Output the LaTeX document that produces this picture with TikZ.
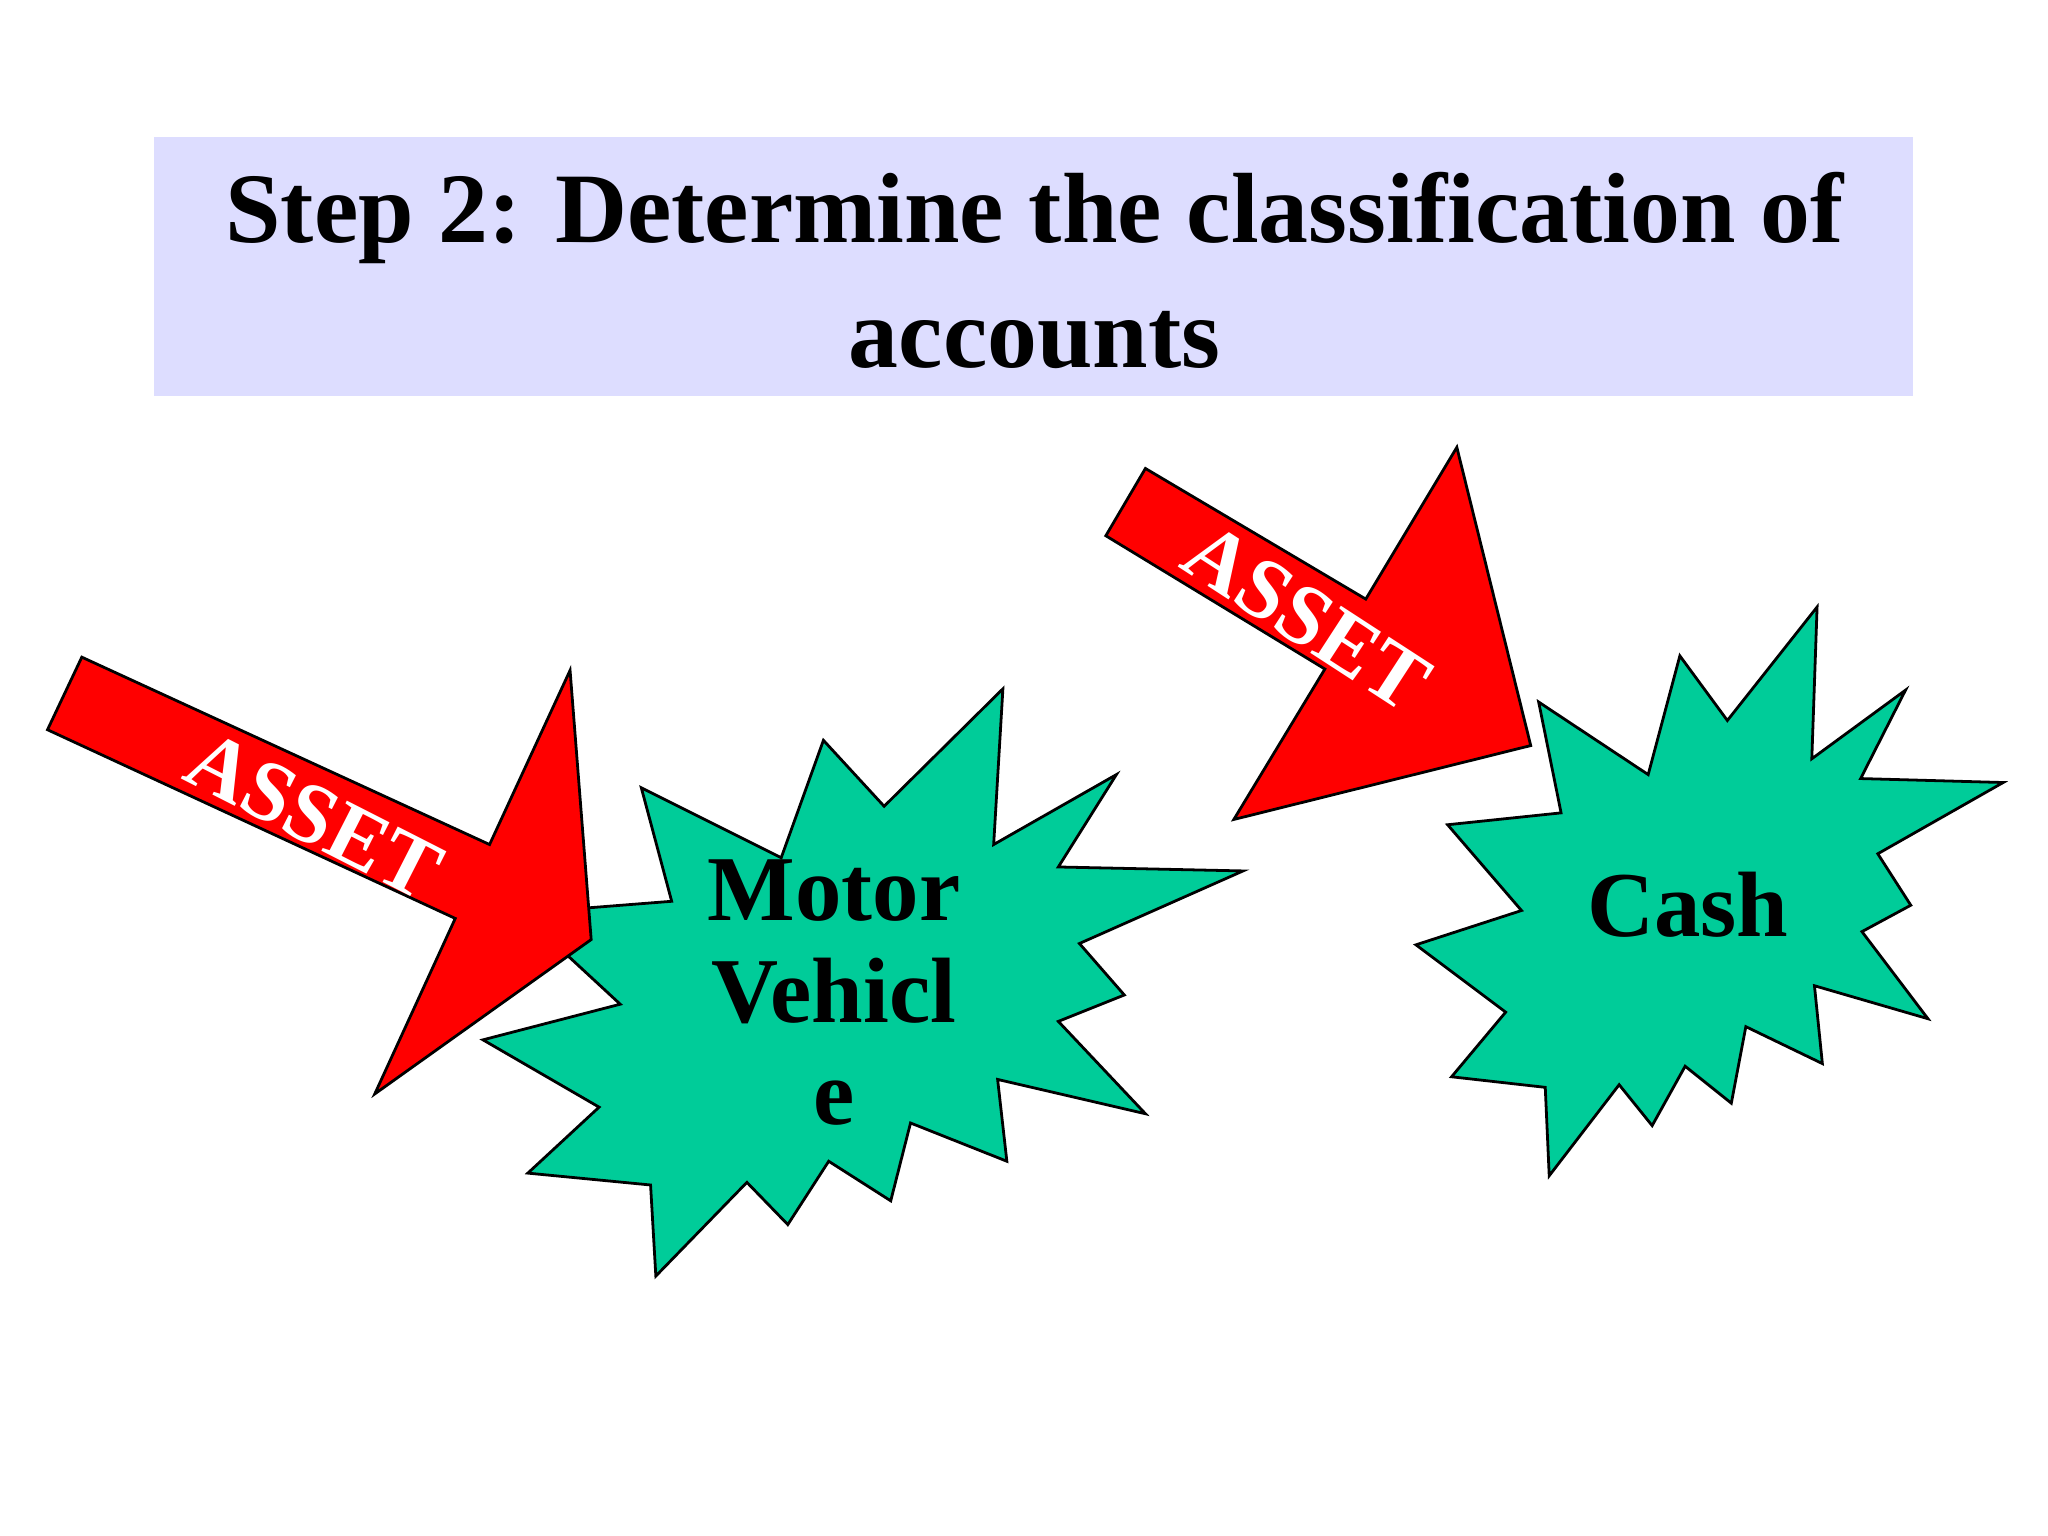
\documentclass[tikz,border=0pt]{standalone}
\usepackage{fontspec}
\setmainfont{Liberation Serif}
\definecolor{starg}{HTML}{00CC99}
\definecolor{lav}{HTML}{DDDDFF}
\begin{document}
\begin{tikzpicture}[x=0.01cm,y=-0.01cm,
  star/.style={fill=starg,draw=black,line width=0.6pt},
  arr/.style={fill=red,draw=black,line width=0.6pt},
  lbl/.style={font=\bfseries\fontsize{18.5}{18.5}\selectfont,text=white,inner sep=0pt},
  big/.style={font=\bfseries\fontsize{20}{24}\selectfont,align=center}]
\useasboundingbox (0,0) rectangle (1552,1164);
\fill[lav] (117,104) rectangle (1450,300);
\node[font=\bfseries\fontsize{21.5}{27}\selectfont,align=center] (title) at (784,205) {Step 2: Determine the classification of\\accounts};
\draw[star] (760,522)--(753,640)--(846,587)--(802,657)--(942,660)--(818,715)--(852,754)--(802,774)--(868,844)--(756,818)--(763,880)--(690,851)--(675,910)--(628,880)--(597,928)--(566,896)--(497,967)--(493,898)--(400,889)--(454,839)--(366,788)--(470,761)--(430,724)--(420,690)--(509,683)--(486,597)--(592,650)--(624,561)--(670,611)--cycle;
\draw[star] (1377,460)--(1373,575)--(1444,523)--(1410,590)--(1518,593)--(1423,647)--(1448,686)--(1411,706)--(1461,772)--(1375,747)--(1381,806)--(1323,778)--(1312,836)--(1277,808)--(1252,853)--(1227,822)--(1174,891)--(1171,824)--(1100,816)--(1141,767)--(1073,716)--(1153,690)--(1097,625)--(1183,616)--(1166,532)--(1249,587)--(1273,497)--(1309,546)--cycle;
\node[big] (mv) at (632,752) {Motor\\[-2pt]Vehicl\\[-2pt]e};
\node[big] (cash) at (1279,686) {Cash};
\draw[arr] (62,498)--(371,640)--(432,508)--(448,712)--(284,829)--(345,696)--(36,553)--cycle;
\node[lbl,rotate=-27] (a1) at (238,618) {ASSET};
\draw[arr] (868,355)--(1035,454)--(1104,339)--(1160,565)--(935,621)--(1004,507)--(838,406)--cycle;
\node[lbl,rotate=-33] (a2) at (990,468) {ASSET};
\end{tikzpicture}
\end{document}
